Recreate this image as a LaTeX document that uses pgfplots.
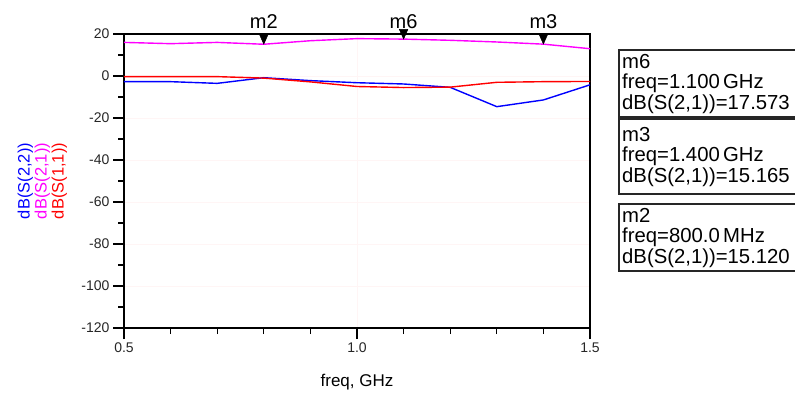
\documentclass[border=0pt]{standalone}
\usepackage{pgfplots}
\pgfplotsset{compat=1.18}
\usepackage{pgfplotstable}
\usepackage{fontspec}
\setmainfont{Liberation Sans}
\definecolor{sblue}{RGB}{0,0,255}
\definecolor{smag}{RGB}{255,0,255}
\definecolor{sred}{RGB}{255,0,0}
\pgfplotstableread{
f    s11   s21     s22
0.5  -0.3  16.0   -2.7
0.6  -0.3  15.4   -2.7
0.7  -0.3  16.0   -3.5
0.8  -1.0  15.120 -0.8
0.9  -2.8  16.8   -2.2
1.0  -5.0  17.8   -3.2
1.1  -5.5  17.573 -3.8
1.2  -5.3  17.0   -5.4
1.3  -3.0  16.2   -14.6
1.4  -2.7  15.165 -11.4
1.5  -2.6  13.0   -4.2
}\sdata
\pgfplotstableread{
f    v
0.8  15.120
1.1  17.573
1.4  15.165
}\mdata
\begin{document}
\begin{tikzpicture}
\useasboundingbox (-124pt,-64pt) rectangle (671pt,328pt);
\begin{axis}[
  at={(0pt,0pt)}, anchor=south west,
  width=466pt, height=294pt, scale only axis,
  xmin=0.5, xmax=1.5, ymin=-120, ymax=20,
  xtick={0.5,1,1.5}, xticklabels={0.5,1.0,1.5},
  minor x tick num=4,
  ytick={-120,-100,...,20},
  minor y tick num=1,
  tick pos=left, tick align=outside,
  major tick length=11pt, minor tick length=6pt,
  tick style={black, line width=1.2pt},
  grid=major, major grid style={red!4, line width=0.6pt},
  axis line style={black, line width=1.4pt},
  ticklabel style={font=\fontsize{14}{16}\selectfont, text=black!85},
  /pgf/number format/assume math mode=true,
  clip=false,
  xlabel={freq, GHz},
  xlabel style={font=\fontsize{17}{19}\selectfont, at={(axis description cs:0.5,-0.184)}, anchor=center},
  ylabel={\textcolor{sblue}{dB(S(2,2))}\\\textcolor{smag}{dB(S(2,1))}\\\textcolor{sred}{dB(S(1,1))}},
  ylabel style={font=\fontsize{16.5}{17}\selectfont, align=center, at={(axis description cs:-0.175,0.5)}, anchor=center},
]
\addplot[sblue, line width=1.4pt] table[x=f, y=s22] {\sdata};
\addplot[smag, line width=1.4pt] table[x=f, y=s21] {\sdata};
\addplot[sred, line width=1.4pt] table[x=f, y=s11] {\sdata};
\addplot[only marks, mark=triangle*, mark size=5pt, mark options={black, fill=black, yshift=6.5pt, rotate=180, yscale=1.3}] table[x=f, y=v] {\mdata};
\node[font=\fontsize{20}{22}\selectfont, anchor=base, yshift=6pt] at (axis cs:0.8,20) {m2};
\node[font=\fontsize{20}{22}\selectfont, anchor=base, yshift=6pt] at (axis cs:1.1,20) {m6};
\node[font=\fontsize{20}{22}\selectfont, anchor=base, yshift=6pt] at (axis cs:1.4,20) {m3};
\end{axis}
\draw[line width=1.4pt, black!85] (495pt,211pt) rectangle (680pt,278pt);
\node[anchor=north west, inner sep=0pt, align=left, font=\fontsize{20.3}{20.5}\selectfont] at (498pt,274pt) {m6\\freq=1.100\,GHz\\dB(S(2,1))=17.573};
\draw[line width=1.4pt, black!85] (495pt,134pt) rectangle (680pt,209pt);
\node[anchor=north west, inner sep=0pt, align=left, font=\fontsize{20.3}{20.5}\selectfont] at (498pt,201pt) {m3\\freq=1.400\,GHz\\dB(S(2,1))=15.165};
\draw[line width=1.4pt, black!85] (495pt,57pt) rectangle (680pt,124pt);
\node[anchor=north west, inner sep=0pt, align=left, font=\fontsize{20.3}{20.5}\selectfont] at (498pt,120pt) {m2\\freq=800.0\,MHz\\dB(S(2,1))=15.120};
\end{tikzpicture}
\end{document}
